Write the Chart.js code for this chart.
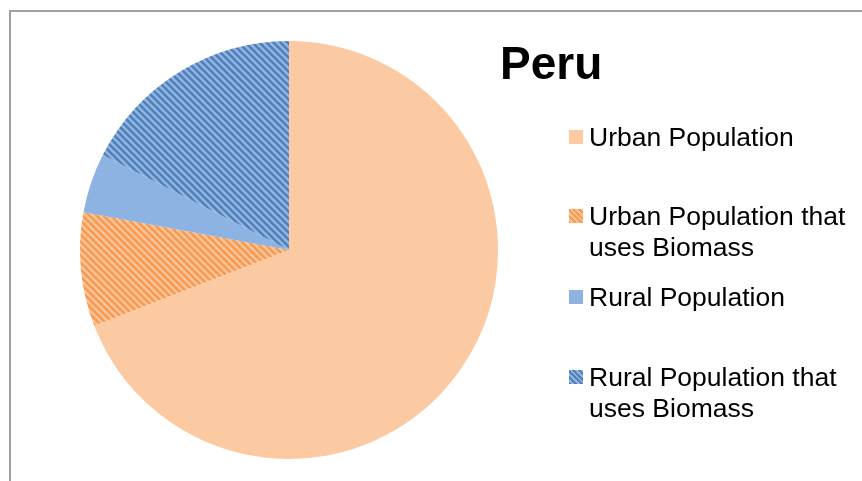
<!DOCTYPE html>
<html>
<head>
<meta charset="utf-8">
<script src="https://cdn.jsdelivr.net/npm/chart.js@4"></script>
<style>
  html, body { margin: 0; padding: 0; background: #fff; }
  body { width: 862px; height: 481px; overflow: hidden; position: relative; font-family: "Liberation Sans", Arial, sans-serif; }
  #frame { position: absolute; left: 9px; top: 10px; width: 900px; height: 520px; border: 2px solid #a0a0a0; box-sizing: border-box; }
  #wrap { position: absolute; left: 0; top: 0; width: 862px; height: 481px; }
  #title { position: absolute; left: 500px; top: 36px; font-size: 46px; font-weight: bold; color: #000; line-height: 54px; }
  .item { position: absolute; left: 569px; font-size: 26.5px; line-height: 31px; color: #000; }
  .item .box { position: absolute; left: 0; width: 14px; height: 14px; }
  .item .txt { position: absolute; left: 20px; white-space: nowrap; }
</style>
</head>
<body>
<div id="frame"></div>
<div id="wrap"><canvas id="pieChart" width="862" height="481"></canvas></div>
<div id="title">Peru</div>
<div id="legend"></div>
<script>
var labels = ['Urban Population', 'Urban Population that uses Biomass', 'Rural Population', 'Rural Population that uses Biomass'];
var legendLines = [['Urban Population'], ['Urban Population that', 'uses Biomass'], ['Rural Population'], ['Rural Population that', 'uses Biomass']];
var values = [69.1, 8.8, 4.6, 17.5];

function stripes(light, dark) {
    var s = 7;
    var c = document.createElement('canvas');
    c.width = s; c.height = s;
    var x = c.getContext('2d');
    x.fillStyle = light;
    x.fillRect(0, 0, s, s);
    x.strokeStyle = dark;
    x.lineWidth = 2.6;
    x.beginPath();
    x.moveTo(-s, -s); x.lineTo(2 * s, 2 * s);
    x.moveTo(-s, 0); x.lineTo(s, 2 * s);
    x.moveTo(0, -s); x.lineTo(2 * s, s);
    x.stroke();
    return x.createPattern(c, 'repeat');
}

var ctx = document.getElementById('pieChart').getContext('2d');
var fills = ['#fbcaa2', stripes('#fbc498', '#f79a52'), '#8db3e2', stripes('#93b5e0', '#4f81bd')];

new Chart(ctx, {
    type: 'pie',
    data: {
        labels: labels,
        datasets: [{
            data: values,
            backgroundColor: fills,
            borderWidth: 0
        }]
    },
    options: {
        responsive: false,
        animation: false,
        layout: { padding: { left: 80, top: 41, right: 364, bottom: 22 } },
        plugins: {
            legend: { display: false },
            title: { display: false },
            tooltip: { enabled: false }
        }
    }
});

// legend, drawn as html
var legendTops = [130, 209, 290, 370];
var legendBoxes = [
    '#fbcaa2',
    'repeating-linear-gradient(45deg, #f79a52 0px, #f79a52 2px, #fbc498 2px, #fbc498 4px)',
    '#8db3e2',
    'repeating-linear-gradient(45deg, #4f81bd 0px, #4f81bd 2px, #93b5e0 2px, #93b5e0 4px)'
];
var legend = document.getElementById('legend');
for (var i = 0; i < labels.length; i++) {
    var item = document.createElement('div');
    item.className = 'item';
    item.style.top = (legendTops[i] - 8) + 'px';
    var html = '<div class="box" style="top:8px;background:' + legendBoxes[i] + '"></div>';
    html += '<div class="txt">' + legendLines[i].join('<br>') + '</div>';
    item.innerHTML = html;
    legend.appendChild(item);
}
</script>
</body>
</html>
